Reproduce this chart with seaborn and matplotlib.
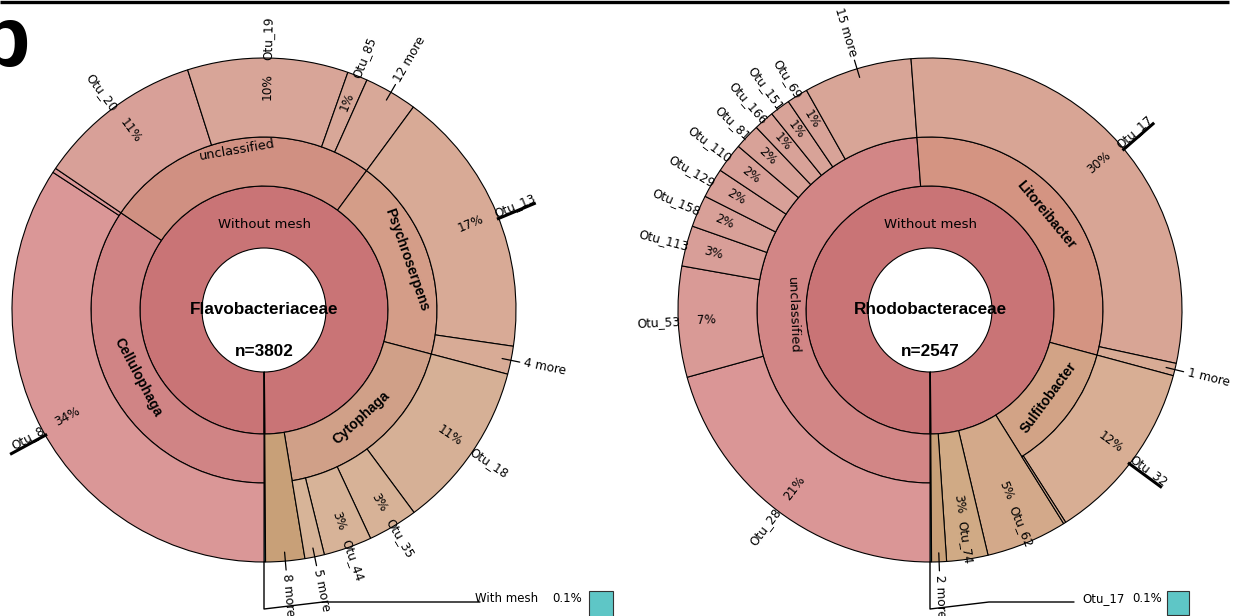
import numpy as np
import matplotlib
matplotlib.use("Agg")
import matplotlib.pyplot as plt
import seaborn as sns

# ---------------- data (percent of reads) ----------------
# Left: Flavobacteriaceae
L_family = "Flavobacteriaceae"
L_n = 3802
L_top = ["Without mesh", "With mesh"]
L_top_pct = [99.9, 0.1]
L_mesh_label = "With mesh"
L_genus = ["Cellulophaga", "unclassified", "Psychroserpens", "Cytophaga", "8 more"]
L_genus_pct = [34.5, 25.6, 19.0, 18.3, 2.5]
L_otu = ["Otu_8", "", "Otu_20", "Otu_19", "Otu_85", "12 more",
         "Otu_13", "4 more", "Otu_18", "Otu_35", "Otu_44", "5 more"]
L_otu_pct = [34.2, 0.3, 10.6, 10.3, 1.3, 3.4, 17.2, 1.8, 10.75, 3.2, 3.1, 1.25]
L_otu_parent = [0, 0, 1, 1, 1, 1, 2, 2, 3, 3, 3, 3]

# Right: Rhodobacteraceae
R_family = "Rhodobacteraceae"
R_n = 2547
R_top = ["Without mesh", "With mesh"]
R_top_pct = [99.9, 0.1]
R_mesh_label = "Otu_17"
R_genus = ["unclassified", "Litoreibacter", "Sulfitobacter", "Otu_62", "Otu_74", "2 more"]
R_genus_pct = [48.8, 30.4, 11.9, 5.2, 2.65, 0.95]
R_otu = ["Otu_28", "Otu_53", "Otu_113", "Otu_158", "Otu_129", "Otu_110", "Otu_81",
         "Otu_166", "Otu_151", "Otu_69", "15 more", "Otu_17", "1 more", "Otu_32", ""]
R_otu_pct = [20.7, 7.1, 2.6, 2.05, 1.9, 1.9, 1.65, 1.3, 1.3, 1.35, 6.95, 29.6, 0.8, 11.75, 0.15]
R_otu_parent = [0, 0, 0, 0, 0, 0, 0, 0, 0, 0, 0, 1, 1, 2, 2]

# ---------------- styles ----------------
L_top_colors = ["#c97476", "#5ec6c6"]
L_genus_colors = ["#d08485", "#d09082", "#d49d88", "#d0a088", "#c8a078"]
L_otu_colors = ["#da9797", "#da9797", "#d8a098", "#d8a598", "#d8a798", "#d8a898",
                "#d8aa96", "#d8ab96", "#d6b096", "#d7b297", "#d7b398", "#d7b498"]
L_genus_label_r = [143, 162, 151, 145, None]
L_underline = ["Otu_8", "Otu_13"]
L_name_r = {"Otu_35": 244, "Otu_44": 244}

R_top_colors = ["#c97476", "#5ec6c6"]
R_genus_colors = ["#d28686", "#d49482", "#d2a386", "#d3a98a", "#d0aa85", "#c8a078"]
R_otu_colors = ["#da9696", "#d99a96", "#d89e98", "#d8a098", "#d8a098", "#d8a098", "#d8a298",
                "#d8a298", "#d8a398", "#d8a398", "#d8a597", "#d8a595", "#d8ab95", "#d8ae94", "#d8ae94"]
R_genus_label_r = [137, 150, 147, None, None, None]
R_underline = ["Otu_17", "Otu_32"]
R_name_r = {}

W, H = 1235, 616
R_HOLE, R1, R2, R3 = 62, 124, 173, 252
AX_R = 300

sns.set_theme(style="white")
plt.rcParams['font.family'] = ['DejaVu Sans']
plt.rcParams['text.color'] = 'black'

fig = plt.figure(figsize=(W / 100, H / 100), dpi=100)
fig.patch.set_facecolor("white")

BOLD = dict(family=["Liberation Sans", "DejaVu Sans"], fontweight="bold")
SMALL = 8.7


def phi_out(theta):
    t = np.deg2rad(theta)
    return np.degrees(np.arctan2(-np.cos(t), -np.sin(t)))


def norm(a):
    return ((a + 90) % 180) - 90


def is_flipped(theta):
    phi = phi_out(theta)
    rot = norm(phi)
    return abs(((phi - rot) + 180) % 360 - 180) > 1, rot


def radial_text(ax, theta, r, s, anchor="start", **kw):
    flipped, rot = is_flipped(theta)
    if anchor == "start":
        ha = "right" if flipped else "left"
    else:
        ha = "center"
    ax.text(np.deg2rad(theta), r, s, rotation=rot, rotation_mode="anchor",
            ha=ha, va="center", clip_on=False, color="black", **kw)
    return flipped


def tangential_text(ax, theta, r, s, **kw):
    rot = norm(phi_out(theta) - 90)
    ax.text(np.deg2rad(theta), r, s, rotation=rot, rotation_mode="anchor",
            ha="center", va="center", clip_on=False, color="black", **kw)


def chart(cx, cy, family, n, top, top_pct, mesh_label, genus, genus_pct, otu, otu_pct,
          otu_parent, top_colors, genus_colors, otu_colors, genus_label_r, underline, name_r):
    ax = fig.add_axes([(cx - AX_R) / W, (H - cy - AX_R) / H, 2 * AX_R / W, 2 * AX_R / H],
                      projection="polar")
    ax.set_theta_zero_location("S")
    ax.set_theta_direction(-1)
    ax.set_ylim(0, AX_R)
    ax.axis("off")
    ax.set_facecolor("none")

    # top ring (Without mesh / With mesh)
    tdeg = np.asarray(top_pct) * 3.6
    tstart = np.concatenate([[0], np.cumsum(tdeg)[:-1]])
    ax.bar(np.deg2rad(tstart), [R1 - R_HOLE, R3 - R_HOLE], width=np.deg2rad(tdeg),
           bottom=R_HOLE, align="edge", color=top_colors, edgecolor="black", linewidth=0.8)

    # genus ring
    gdeg = np.asarray(genus_pct) * 3.6
    gstart = np.concatenate([[0], np.cumsum(gdeg)[:-1]])
    has_child = [i in otu_parent for i in range(len(genus))]
    gtop = [R2 if hc else R3 for hc in has_child]
    ax.bar(np.deg2rad(gstart), np.array(gtop) - R1, width=np.deg2rad(gdeg), bottom=R1,
           align="edge", color=genus_colors, edgecolor="black", linewidth=0.8)

    # otu ring
    odeg = np.asarray(otu_pct) * 3.6
    ostart = []
    used = {}
    for p, d in zip(otu_parent, odeg):
        s = gstart[p] + used.get(p, 0.0)
        used[p] = used.get(p, 0.0) + d
        ostart.append(s)
    ostart = np.array(ostart)
    ax.bar(np.deg2rad(ostart), R3 - R2, width=np.deg2rad(odeg), bottom=R2, align="edge",
           color=otu_colors, edgecolor="black", linewidth=0.8)

    def outer_label(name, pct, mid, spanning):
        if not name:
            return
        if "more" in name:
            ax.plot(np.deg2rad([mid, mid]), [243, 261], color="black", lw=0.9,
                    clip_on=False)
            radial_text(ax, mid, 265, name, fontsize=SMALL)
            return
        if spanning:
            radial_text(ax, mid, 196, f"{round(pct)}%", anchor="center", fontsize=SMALL)
            radial_text(ax, mid, 235, name, anchor="center", fontsize=SMALL)
            return
        radial_text(ax, mid, 224, f"{round(pct)}%", anchor="center", fontsize=SMALL)
        r0 = name_r.get(name, 250)
        flipped = radial_text(ax, mid, r0, name, fontsize=SMALL)
        if name in underline:
            d = 6.0 * (-1 if flipped else 1)
            rr = np.array([250.0, 292.0])
            th = mid + np.degrees(np.arctan2(d, rr))
            ax.plot(np.deg2rad(th), np.hypot(rr, d), color="black", lw=2.2,
                    solid_capstyle="butt", clip_on=False)

    for name, pct, s, d in zip(otu, otu_pct, ostart, odeg):
        outer_label(name, pct, s + d / 2, False)

    for i, (name, pct, s, d) in enumerate(zip(genus, genus_pct, gstart, gdeg)):
        mid = s + d / 2
        if has_child[i]:
            if name == "unclassified":
                tangential_text(ax, mid, genus_label_r[i], name, fontsize=9.3)
            else:
                tangential_text(ax, mid, genus_label_r[i], name, fontsize=10, **BOLD)
        else:
            outer_label(name, pct, mid, True)

    # centre texts
    ax.text(np.pi, 86, top[0], ha="center", va="center", fontsize=9.5, clip_on=False,
            color="black")
    ax.text(0.5, 0.5, family, transform=ax.transAxes, ha="center", va="center",
            fontsize=12.3, color="black", **BOLD)
    ax.text(0.5, 0.5 - 41 / (2 * AX_R), f"n={n}", transform=ax.transAxes, ha="center",
            va="center", fontsize=12.3, color="black", **BOLD)
    return ax


axL = chart(264, 310, L_family, L_n, L_top, L_top_pct, L_mesh_label, L_genus, L_genus_pct,
            L_otu, L_otu_pct, L_otu_parent, L_top_colors, L_genus_colors, L_otu_colors,
            L_genus_label_r, L_underline, L_name_r)
axR = chart(930, 310, R_family, R_n, R_top, R_top_pct, R_mesh_label, R_genus, R_genus_pct,
            R_otu, R_otu_pct, R_otu_parent, R_top_colors, R_genus_colors, R_otu_colors,
            R_genus_label_r, R_underline, R_name_r)

# ---------------- overlay in pixel coordinates ----------------
ov = fig.add_axes([0, 0, 1, 1], zorder=5)
ov.set_xlim(0, W)
ov.set_ylim(H, 0)
ov.axis("off")
ov.patch.set_alpha(0)

ov.plot([0, 1229], [2, 2], color="black", lw=2.4, solid_capstyle="butt")
ov.text(-23, 66, "b", fontsize=62, ha="left", va="baseline", color="black", **BOLD)


def mesh_leader(cx, cy, label, pct, color, text_dx, line_dx, pct_dx, sq_dx, sq_w):
    ov.plot([cx, cx, cx + 59, cx + line_dx], [cy + R3, cy + 299, cy + 292, cy + 292],
            color="black", lw=1.0)
    ov.text(cx + text_dx, cy + 289, label, fontsize=8.5, ha="left", va="center",
            color="black")
    ov.text(cx + pct_dx, cy + 289, f"{pct}%", fontsize=8.5, ha="right", va="center",
            color="black")
    ov.add_patch(plt.Rectangle((cx + sq_dx, cy + 281), sq_w, sq_w + 2, facecolor=color,
                               edgecolor="#333333", lw=0.8, clip_on=False))


mesh_leader(264, 310, L_mesh_label, L_top_pct[1], L_top_colors[1], 211, 216, 318, 325, 24)
mesh_leader(930, 310, R_mesh_label, R_top_pct[1], R_top_colors[1], 152, 144, 232, 237, 22)

fig.savefig("out.png", dpi=100, facecolor="white")
